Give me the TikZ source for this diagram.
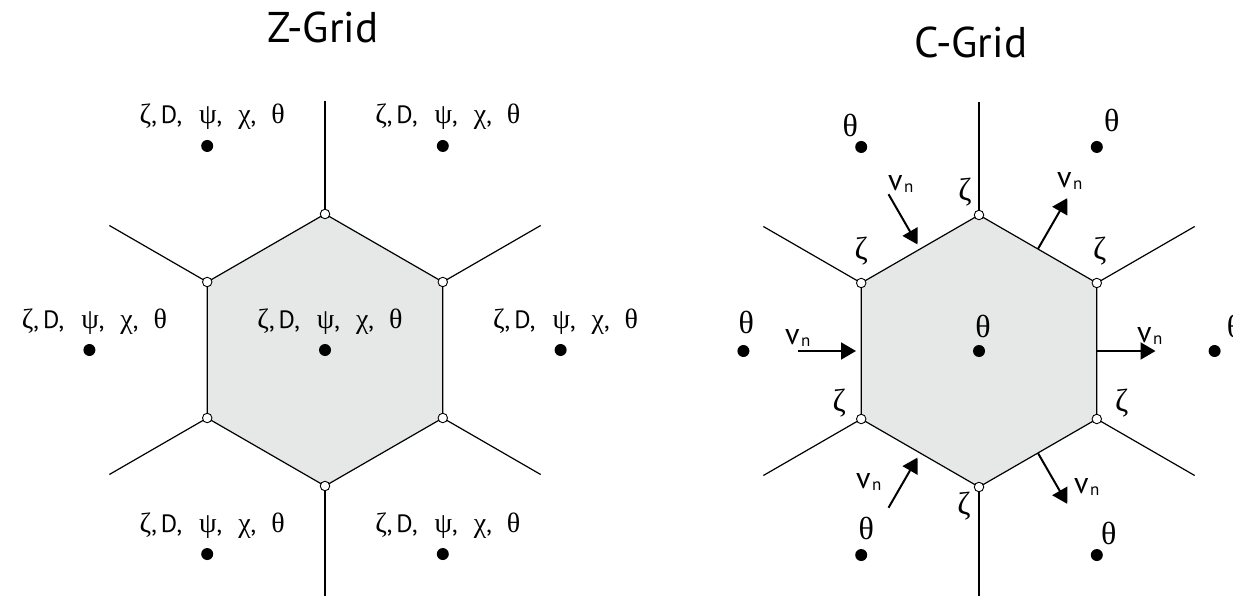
\documentclass[tikz,border=0pt]{standalone}
\usepackage{fontspec}
\setmainfont{PT Sans}
\newfontfamily\grk{Liberation Serif}
\usetikzlibrary{calc,arrows.meta}
\definecolor{hexfill}{RGB}{230,231,231}
\tikzset{
  cell/.style ={draw, line width=1.2pt, fill=hexfill},
  spoke/.style={line width=1.2pt},
  vtx/.style  ={circle, draw, fill=white, line width=0.9pt, inner sep=0pt, minimum size=9.5pt},
  ctr/.style  ={circle, fill=black, inner sep=0pt, minimum size=12pt},
  ttl/.style  ={font=\fontsize{43}{43}\selectfont, inner sep=0pt, anchor=base},
  zlab/.style ={font=\fontsize{25}{25}\selectfont, inner sep=0pt, anchor=base},
  glab/.style ={font=\fontsize{32}{32}\selectfont\grk, inner sep=0pt},
  vlab/.style ={inner sep=0pt, anchor=base west},
  flux/.style ={-{Triangle[length=15pt,width=17pt]}, line width=2pt}
}
\newcommand{\gk}[1]{{\fontsize{28}{28}\selectfont\grk #1}}
\newcommand{\zvars}{\gk{ζ},\hspace{4pt}D,\hspace{17pt}\gk{ψ},\hspace{16pt}\gk{χ},\hspace{15pt}\gk{θ}}
\newcommand{\vn}{{\fontsize{30}{30}\selectfont v}\hspace{1.5pt}\raisebox{-2pt}{\fontsize{17}{17}\selectfont n}}

\begin{document}
\begin{tikzpicture}[x=1pt,y=-1pt]
  \useasboundingbox (0,0) rectangle (1233,596);

  % Z-grid
  \node[ttl](ztitle) at (323,43){Z-Grid};
  \coordinate (zc) at (325,350);
  \foreach \a/\n in {270/t,330/ur,30/lr,90/b,150/ll,210/ul}{
    \coordinate (z\n) at ($(zc)+(\a:136)$);
    \coordinate (z\n o) at ($(zc)+(\a:249)$);
  }
  \draw[cell](zt)--(zur)--(zlr)--(zb)--(zll)--(zul)--cycle;
  \foreach \n in {t,ur,lr,b,ll,ul}{
    \draw[spoke](z\n)--(z\n o);
    \node[vtx](zv\n) at (z\n){};
  }
  \node[ctr](zdc) at (zc){};
  \foreach \a/\n in {0/e,60/se,120/sw,180/w,240/nw,300/ne}
    \node[ctr](zd\n) at ($(zc)+(\a:235.6)$){};
  \foreach \n in {c,e,se,sw,w,nw,ne}
    \node[zlab](zl\n) at ($(zd\n)+(5,-22)$){\zvars};

  % C-grid
  \node[ttl](ctitle) at (971,58){C-Grid};
  \coordinate (cc) at (979,351);
  \foreach \a/\n in {270/t,330/ur,30/lr,90/b,150/ll,210/ul}{
    \coordinate (c\n) at ($(cc)+(\a:136)$);
    \coordinate (c\n o) at ($(cc)+(\a:249)$);
  }
  \draw[cell](ct)--(cur)--(clr)--(cb)--(cll)--(cul)--cycle;
  \foreach \n in {t,ur,lr,b,ll,ul}{
    \draw[spoke](c\n)--(c\n o);
    \node[vtx](cv\n) at (c\n){};
  }
  \node[ctr](cdc) at (cc){};
  \foreach \a/\n in {0/e,60/se,120/sw,180/w,240/nw,300/ne}
    \node[ctr](cd\n) at ($(cc)+(\a:235.6)$){};

  % theta at cell centres
  \foreach \n/\dx/\dy in {c/4/-25,e/20/-25,se/12/-22,sw/5/-27,w/3/-29,nw/-11/-21,ne/15/-26}
    \node[glab](ct\n) at ($(cd\n)+(\dx,\dy)$){θ};

  % zeta at vertices
  \foreach \n/\dx/\dy in {t/-14/-23,ur/3/-32,lr/25/-16,b/-15/19,ll/-22/-16,ul/0/-32}
    \node[glab](cz\n) at ($(cv\n)+(\dx,\dy)$){ζ};

  % normal velocities on edges
  \foreach \a/\n in {180/w,240/nw,120/sw}{
    \coordinate (cm\n) at ($(cc)+(\a:123)$);
    \coordinate (cq\n) at ($(cc)+(\a:181)$);
    \draw[flux](cq\n)--(cm\n);
  }
  \foreach \a/\n in {0/e,300/ne,60/se}{
    \coordinate (cm\n) at ($(cc)+(\a:117.8)$);
    \coordinate (cq\n) at ($(cc)+(\a:176.5)$);
    \draw[flux](cm\n)--(cq\n);
  }
  \node[vlab](vw)  at (785,344){\vn};
  \node[vlab](vnw) at (888,190){\vn};
  \node[vlab](vsw) at (856,488){\vn};
  \node[vlab](vne) at (1057,187){\vn};
  \node[vlab](ve)  at (1137,342){\vn};
  \node[vlab](vse) at (1074,493){\vn};
\end{tikzpicture}
\end{document}
